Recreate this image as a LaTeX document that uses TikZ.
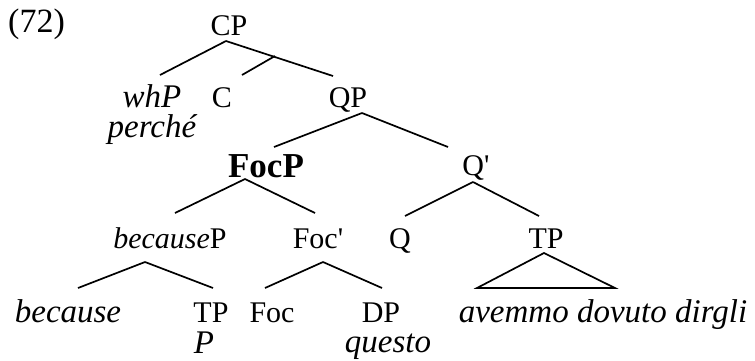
\documentclass[tikz,border=0pt]{standalone}
\usepackage{fontspec}
\setmainfont{Liberation Serif}
\begin{document}
\begin{tikzpicture}[x=1pt,y=-1pt,
  lab/.style={inner sep=0pt, anchor=base, font=\fontsize{30}{36}\selectfont},
  itl/.style={inner sep=0pt, anchor=base, font=\fontsize{33}{40}\selectfont\itshape},
  bld/.style={inner sep=0pt, anchor=base, font=\fontsize{35}{42}\selectfont\bfseries},
  branch/.style={line width=1.7pt}]
\useasboundingbox (0,0) rectangle (755,360);
% labels
\node[inner sep=0pt, anchor=base west, font=\fontsize{34}{40}\selectfont] (num) at (8,32) {(72)};
\node[lab] (CP) at (229,35) {CP};
\node[itl] (whP) at (152,107) {whP};
\node[lab] (C) at (222,107) {C};
\node[lab] (QP) at (348,107) {QP};
\node[itl] (perche) at (152,137) {perché};
\node[bld] (FocP) at (266,177) {FocP};
\node[lab] (Qbar) at (476,175) {Q\textquotesingle};
\node[lab] (becP) at (170,248) {\textit{because}P};
\node[lab] (Focbar) at (318,248) {Foc\textquotesingle};
\node[lab] (Q) at (400,248) {Q};
\node[lab] (TPr) at (546,248) {TP};
\node[itl] (because) at (68,322) {because};
\node[lab] (TPl) at (211,322) {TP};
\node[lab] (Foc) at (272,322) {Foc};
\node[lab] (DP) at (381,322) {DP};
\node[itl] (avemmo) at (603,322) {avemmo dovuto dirgli};
\node[itl] (P) at (204,353) {P};
\node[itl] (questo) at (388,352) {questo};
% branch end points
\coordinate (CPb) at (226,41);
\coordinate (whPt) at (160,75);
\coordinate (QPt) at (333,76);
\coordinate (Cj) at (275,56);
\coordinate (Ct) at (242,75);
\coordinate (QPb) at (362,113);
\coordinate (FocPt) at (274,147);
\coordinate (Qbart) at (448,147);
\coordinate (FocPb) at (245,179);
\coordinate (becPt) at (175,213);
\coordinate (Focbart) at (315,213);
\coordinate (Qbarb) at (473,182);
\coordinate (Qt) at (405,216);
\coordinate (TPrt) at (539,216);
\coordinate (becPb) at (145,262);
\coordinate (becauset) at (78,288);
\coordinate (TPlt) at (213,288);
\coordinate (Focbarb) at (323,262);
\coordinate (Foct) at (265,288);
\coordinate (DPt) at (382,288);
\coordinate (TPrb) at (544,253);
\coordinate (triL) at (477,288);
\coordinate (triR) at (615,288);
% branches
\draw[branch] (CPb) -- (whPt);
\draw[branch] (CPb) -- (QPt);
\draw[branch] (Cj) -- (Ct);
\draw[branch] (QPb) -- (FocPt);
\draw[branch] (QPb) -- (Qbart);
\draw[branch] (FocPb) -- (becPt);
\draw[branch] (FocPb) -- (Focbart);
\draw[branch] (Qbarb) -- (Qt);
\draw[branch] (Qbarb) -- (TPrt);
\draw[branch] (becPb) -- (becauset);
\draw[branch] (becPb) -- (TPlt);
\draw[branch] (Focbarb) -- (Foct);
\draw[branch] (Focbarb) -- (DPt);
\draw[branch] (TPrb) -- (triL) -- (triR) -- cycle;
\end{tikzpicture}
\end{document}
